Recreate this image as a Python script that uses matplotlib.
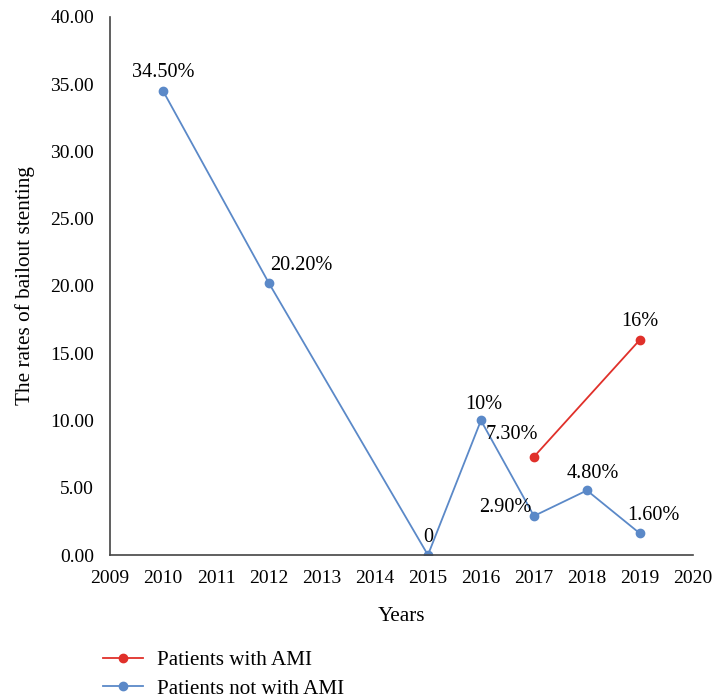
import matplotlib.pyplot as plt

plt.rcParams['font.family'] = ['Liberation Serif', 'DejaVu Serif']

AMI_YEARS = [2017, 2019]
AMI_RATES = [7.3, 16.0]
AMI_LABELS = ["7.30%", "16%"]

NON_AMI_YEARS = [2010, 2012, 2015, 2016, 2017, 2018, 2019]
NON_AMI_RATES = [34.5, 20.2, 0.0, 10.0, 2.9, 4.8, 1.6]
NON_AMI_LABELS = ["34.50%", "20.20%", "0", "10%", "2.90%", "4.80%", "1.60%"]

RED = "#e0302a"
BLUE = "#5b89c8"
FS = 14
LABEL_FS = 14.6
AXIS_FS = 15.3
LEGEND_FS = 15.2

fig = plt.figure(figsize=(7.14, 6.99), dpi=100)
ax = fig.add_axes([0.154, 0.206, 0.8165, 0.77])

ax.plot(AMI_YEARS, AMI_RATES, color=RED, marker="o", markersize=6, linewidth=1.3,
        label="Patients with AMI")
ax.plot(NON_AMI_YEARS, NON_AMI_RATES, color=BLUE, marker="o", markersize=6, linewidth=1.3,
        label="Patients not with AMI")

# label offsets in points (dx, dy, ha, va)
non_ami_offsets = [(0, 6, "center", "bottom"), (1, 6, "left", "bottom"),
                   (0, 6, "center", "bottom"), (2, 5, "center", "bottom"),
                   (-2, 6, "right", "center"), (4, 5, "center", "bottom"),
                   (10, 6, "center", "bottom")]
for x, y, t, (dx, dy, ha, va) in zip(NON_AMI_YEARS, NON_AMI_RATES, NON_AMI_LABELS, non_ami_offsets):
    ax.annotate(t, (x, y), xytext=(dx, dy), textcoords="offset points",
                ha=ha, va=va, fontsize=LABEL_FS)
ami_offsets = [(3, 9, "right", "bottom"), (0, 6, "center", "bottom")]
for x, y, t, (dx, dy, ha, va) in zip(AMI_YEARS, AMI_RATES, AMI_LABELS, ami_offsets):
    ax.annotate(t, (x, y), xytext=(dx, dy), textcoords="offset points",
                ha=ha, va=va, fontsize=LABEL_FS)

ax.set_xlim(2009, 2020)
ax.set_ylim(0, 40)
ax.set_xticks(range(2009, 2021))
ax.set_yticks(range(0, 41, 5))
ax.set_yticklabels([f"{v:.2f}" for v in range(0, 41, 5)])
ax.tick_params(axis="y", labelsize=FS, length=0, pad=11.5)
ax.tick_params(axis="x", labelsize=FS, length=0, pad=11)
for s in ["top", "right"]:
    ax.spines[s].set_visible(False)
for s in ["left", "bottom"]:
    ax.spines[s].set_color("#444444")
    ax.spines[s].set_linewidth(1.2)

ax.set_xlabel("Years", fontsize=AXIS_FS, labelpad=14)
ax.set_ylabel("The rates of bailout stenting", fontsize=AXIS_FS)
ax.yaxis.set_label_coords(-0.128, 0.5)

fig.legend(loc="upper left", bbox_to_anchor=(0.13, 0.085), frameon=False, fontsize=LEGEND_FS,
           handlelength=1.9, handletextpad=0.65, labelspacing=0.42, borderpad=0)

fig.savefig("out.png", dpi=100)
